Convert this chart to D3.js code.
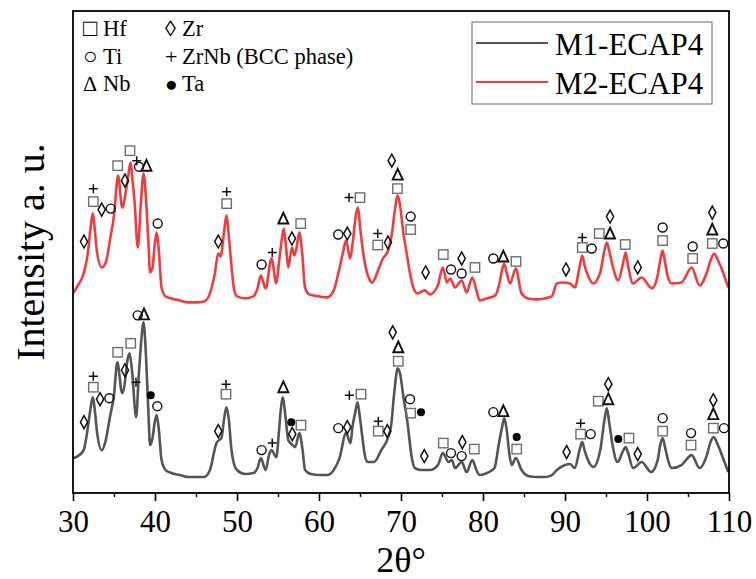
<!DOCTYPE html>
<html>
<head>
<meta charset="utf-8">
<script src="https://cdn.jsdelivr.net/npm/d3@7"></script>
<style>
  html, body { margin: 0; padding: 0; background: #fff; }
  svg { display: block; }
</style>
</head>
<body>
<svg id="chart" width="756" height="579"></svg>
<script>
// ---------- DATA ----------
const seriesNames = ["M1-ECAP4", "M2-ECAP4"];
const xTicks = [30, 40, 50, 60, 70, 80, 90, 100, 110];
const xMinorTicks = [35, 45, 55, 65, 75, 85, 95, 105];

// M2-ECAP4 (red, upper) : [2theta, intensity a.u.]
const m2 = [
  [30.0,400],[30.6,416],[31.3,440],[31.8,480],[32.1,525],[32.4,560],[32.7,520],[32.9,486],[33.5,452],[34.0,462],[34.5,506],
  [35.0,556],[35.5,636],[36.0,572],[36.5,610],[36.7,630],[37.0,662],[37.3,620],[37.5,586],[37.9,492],[38.3,586],[38.6,640],
  [38.9,590],[39.2,500],[39.4,442],[39.7,452],[39.95,495],[40.2,522],[40.45,490],[40.8,412],[41.3,394],[42.0,390],[43.0,386],
  [44.0,382],[45.0,382],[46.0,384],[46.7,400],[47.3,440],[47.7,480],[48.0,474],[48.4,520],[48.7,556],[49.0,515],[49.3,460],
  [49.6,412],[50.0,394],[51.0,390],[52.0,394],[52.5,410],[52.9,436],[53.5,410],[54.2,470],[54.8,420],
  [55.1,460],[55.4,500],[55.7,530],[56.0,490],[56.25,452],[56.7,492],[57.0,476],[57.3,495],[57.6,522],[57.9,490],[58.3,412],[58.8,398],
  [60.0,394],[61.0,392],[61.8,406],[62.35,440],[62.9,480],[63.3,506],[63.8,470],[64.1,500],[64.4,545],[64.7,572],[65.1,520],
  [65.4,480],[65.7,452],[66.0,434],[66.5,422],[67.2,446],[67.8,470],[68.4,485],[68.9,520],[69.2,560],[69.6,596],
  [69.9,575],[70.3,520],[70.7,480],[71.1,440],[71.5,412],[72.0,400],[72.9,406],[73.5,398],[74.5,416],
  [75.1,452],[75.6,422],[76.0,430],[76.6,412],[77.4,426],[78.0,402],[78.7,432],[79.2,406],[79.6,386],
  [80.5,390],[81.5,396],[82.0,420],[82.3,445],[82.6,460],[82.9,440],[83.3,420],[84.0,450],[84.7,400],[85.5,390],[86.5,388],
  [87.5,390],[88.4,394],[89.0,420],[89.8,422],[90.6,420],[91.2,412],[91.8,455],[92.1,476],[92.4,455],[92.8,436],[93.45,420],
  [94.3,442],[94.8,485],[95.1,502],[95.4,485],[95.8,456],[96.5,426],[97.1,462],[97.4,482],[97.7,455],[98.3,420],[99.35,432],
  [100.6,410],[101.3,436],[101.6,465],[101.9,486],[102.2,462],[102.5,436],[103.0,420],[104.2,422],[105.45,452],[106.4,416],
  [107.3,442],[107.8,468],[108.2,480],[108.6,468],[109.0,454],[109.9,412]
];

// M1-ECAP4 (grey, lower) : [2theta, intensity a.u.]
const m1 = [
  [30.0,70],[30.6,74],[31.3,86],[31.8,130],[32.1,165],[32.4,192],[32.7,160],[32.9,126],[33.5,86],[34.0,106],[34.5,152],
  [35.0,196],[35.4,262],[36.0,200],[36.5,246],[36.6,262],[36.9,280],[37.2,245],[37.7,152],[38.0,230],[38.3,300],[38.6,342],
  [38.9,275],[39.2,160],[39.4,96],[39.7,110],[39.95,140],[40.2,156],[40.45,130],[40.8,66],[41.3,46],[42.0,40],[43.0,36],
  [44.0,32],[45.0,32],[46.0,32],[46.7,46],[47.5,100],[47.8,106],[48.1,110],[48.4,145],[48.7,172],[49.0,148],[49.3,90],
  [49.6,60],[50.0,46],[51.0,38],[52.0,40],[52.5,50],[52.9,70],[53.5,46],[53.9,76],[54.2,86],[54.8,72],
  [55.1,120],[55.3,160],[55.6,192],[55.9,155],[56.25,106],[56.8,96],[57.1,92],[57.6,120],[58.0,86],[58.3,46],[59.0,38],
  [60.0,36],[61.0,36],[61.8,46],[62.5,70],[63.3,120],[63.85,100],[64.1,135],[64.4,160],[64.7,182],[65.0,150],
  [65.3,110],[65.6,75],[65.9,62],[66.7,62],[67.6,86],[68.4,110],[68.8,136],[69.2,205],[69.6,250],[69.9,238],
  [70.3,192],[70.8,140],[71.3,72],[71.7,50],[72.5,46],[73.5,46],[74.5,56],[75.1,80],[75.8,62],
  [76.2,66],[76.6,50],[77.4,62],[78.0,42],[78.7,66],[79.2,46],[79.6,36],[80.5,40],[81.4,50],[81.9,95],
  [82.3,130],[82.6,150],[82.9,125],[83.2,80],[83.5,56],[84.0,70],[84.7,46],[85.5,34],[86.5,32],[87.5,32],[88.4,36],
  [89.0,46],[90.0,56],[90.6,58],[91.2,50],[91.8,88],[92.1,102],[92.4,85],[92.8,66],[93.45,52],[94.3,86],[94.8,145],
  [95.1,170],[95.4,140],[95.8,96],[96.4,62],[97.1,85],[97.4,92],[97.7,80],[98.3,50],[99.35,62],[100.5,42],[101.3,66],
  [101.6,95],[101.9,110],[102.2,92],[102.5,70],[103.0,50],[104.2,56],[105.45,76],[106.4,50],[107.3,76],[107.7,100],
  [108.1,112],[108.5,102],[108.8,90],[109.9,42]
];

// Phase markers: [2theta, intensity, phase]
// Hf = square, Ti = circle, Nb = triangle, Zr = diamond, ZrNb = plus, Ta = dot
const m2Markers = [
  [31.34,504,"Zr"],[32.48,584,"Hf"],[32.48,610,"ZrNb"],[33.5,568,"Zr"],[34.6,570,"Ti"],
  [35.45,656,"Hf"],[36.34,626,"Zr"],[36.95,686,"Hf"],[37.77,666,"ZrNb"],[38.05,654,"Ti"],
  [38.96,656,"Nb"],[40.33,540,"Ti"],[47.72,504,"Zr"],[48.74,580,"Hf"],[48.74,604,"ZrNb"],
  [53.0,458,"Ti"],[54.3,482,"ZrNb"],[55.65,550,"Nb"],[56.7,510,"Zr"],[57.77,540,"Hf"],
  [62.35,518,"Ti"],[63.45,520,"Zr"],[63.66,592,"ZrNb"],[65.0,592,"Hf"],[67.16,520,"ZrNb"],
  [67.16,497,"Hf"],[68.41,502,"Zr"],[68.87,666,"Zr"],[69.6,638,"Nb"],[69.57,610,"Hf"],
  [71.18,554,"Ti"],[71.18,528,"Hf"],[73.0,442,"Zr"],[75.16,478,"Hf"],[76.1,448,"Ti"],
  [77.4,470,"Zr"],[77.4,440,"Ti"],[79.02,452,"Hf"],[81.26,470,"Ti"],[82.48,474,"Nb"],
  [84.02,464,"Hf"],[90.12,448,"Zr"],[92.11,512,"ZrNb"],[92.11,492,"Hf"],[93.26,490,"Ti"],
  [94.18,520,"Hf"],[95.49,520,"Nb"],[95.49,554,"Zr"],[97.35,498,"Hf"],[98.87,452,"Zr"],
  [101.91,532,"Ti"],[101.91,506,"Hf"],[105.57,494,"Ti"],[105.57,470,"Hf"],[107.96,562,"Zr"],
  [107.96,528,"Nb"],[107.96,500,"Hf"],[109.3,500,"Ti"]
];
const m1Markers = [
  [31.34,142,"Zr"],[32.48,234,"ZrNb"],[32.48,212,"Hf"],[33.3,188,"Zr"],[34.43,190,"Ti"],
  [35.45,282,"Hf"],[36.34,246,"Zr"],[37.04,300,"Hf"],[37.68,222,"ZrNb"],[37.89,356,"Ti"],
  [38.66,358,"Nb"],[39.48,196,"Ta"],[40.28,174,"Ti"],[47.72,124,"Zr"],[48.66,218,"ZrNb"],
  [48.66,198,"Hf"],[53.0,86,"Ti"],[54.3,100,"ZrNb"],[55.65,212,"Nb"],[56.62,142,"Ta"],
  [56.74,118,"Zr"],[57.8,136,"Hf"],[62.35,130,"Ti"],[63.45,132,"Zr"],[63.7,196,"ZrNb"],
  [65.12,198,"Hf"],[67.23,144,"ZrNb"],[67.23,124,"Hf"],[68.33,124,"Zr"],[68.99,322,"Zr"],
  [69.67,292,"Nb"],[69.67,264,"Hf"],[71.1,188,"Ti"],[71.18,160,"Hf"],[72.44,162,"Ta"],
  [72.84,74,"Zr"],[75.16,100,"Hf"],[76.1,80,"Ti"],[77.48,102,"Zr"],[77.4,74,"Ti"],
  [78.94,88,"Hf"],[81.26,162,"Ti"],[82.48,164,"Nb"],[84.11,112,"Ta"],[84.11,88,"Hf"],
  [90.2,82,"Zr"],[91.91,140,"ZrNb"],[91.91,118,"Hf"],[93.13,118,"Ti"],[94.06,184,"Hf"],
  [95.28,188,"Nb"],[95.28,218,"Zr"],[96.5,108,"Ta"],[97.8,110,"Hf"],[98.87,78,"Zr"],
  [101.91,150,"Ti"],[101.91,124,"Hf"],[105.37,120,"Ti"],[105.37,96,"Hf"],[108.09,186,"Zr"],
  [108.09,158,"Nb"],[108.09,130,"Hf"],[109.39,130,"Ti"]
];

// phase legend: [phase, symbol glyph, label]
const phaseLegend = [
  ["Hf", "□", "Hf"], ["Zr", "◊", "Zr"],
  ["Ti", "○", "Ti"], ["ZrNb", "+", "ZrNb (BCC phase)"],
  ["Nb", "Δ", "Nb"], ["Ta", "●", "Ta"]
];

// ---------- LAYOUT ----------
const SERIF = "'Liberation Serif', 'Times New Roman', Times, serif";
const svg = d3.select("#chart");
const margin = {left: 73, top: 11, right: 27, bottom: 86};
const W = 756, H = 579;
const x = d3.scaleLinear().domain([30, 110]).range([margin.left, W - margin.right]);
const y = d3.scaleLinear().domain([0, 966]).range([H - margin.bottom, margin.top]);

const colors = {"M1-ECAP4": "#555555", "M2-ECAP4": "#f03c3c"};

// curves
const line = d3.line().x(d => x(d[0])).y(d => y(d[1])).curve(d3.curveMonotoneX);
svg.append("clipPath").attr("id", "clip").append("rect")
  .attr("x", x(30)).attr("y", y(966)).attr("width", x(110) - x(30)).attr("height", y(0) - y(966));
const plot = svg.append("g").attr("clip-path", "url(#clip)");
plot.append("path").datum(m1).attr("d", line)
  .attr("fill", "none").attr("stroke", colors["M1-ECAP4"]).attr("stroke-width", 2.6).attr("stroke-linejoin", "round");
plot.append("path").datum(m2).attr("d", line)
  .attr("fill", "none").attr("stroke", colors["M2-ECAP4"]).attr("stroke-width", 2.6).attr("stroke-linejoin", "round");

// marker drawing
function drawMarker(g, phase) {
  switch (phase) {
    case "Hf":
      g.append("rect").attr("x", -4.7).attr("y", -4.7).attr("width", 9.4).attr("height", 9.4)
        .attr("fill", "none").attr("stroke", "#6e6e6e").attr("stroke-width", 1.4);
      break;
    case "Ti":
      g.append("circle").attr("r", 4.5).attr("fill", "none").attr("stroke", "#111").attr("stroke-width", 1.4);
      break;
    case "Nb":
      g.append("path").attr("d", "M0,-5.8L5,5L-5,5Z").attr("fill", "none")
        .attr("stroke", "#111").attr("stroke-width", 1.9).attr("stroke-linejoin", "miter");
      break;
    case "Zr":
      g.append("path").attr("d", "M0,-6.5L3.6,0L0,6.5L-3.6,0Z").attr("fill", "none")
        .attr("stroke", "#111").attr("stroke-width", 1.5);
      break;
    case "ZrNb":
      g.append("path").attr("d", "M-4.5,0H4.5M0,-4.5V4.5").attr("stroke", "#111").attr("stroke-width", 1.5);
      break;
    case "Ta":
      g.append("circle").attr("r", 4).attr("fill", "#000");
      break;
  }
}
const markerLayer = svg.append("g");
[m2Markers, m1Markers].forEach(arr => {
  arr.forEach(d => {
    const g = markerLayer.append("g").attr("transform", `translate(${x(d[0])},${y(d[1])})`);
    drawMarker(g, d[2]);
  });
});

// frame
svg.append("rect").attr("x", x(30)).attr("y", y(966)).attr("width", x(110) - x(30)).attr("height", y(0) - y(966))
  .attr("fill", "none").attr("stroke", "#000").attr("stroke-width", 1.8);

// x axis
const xAxis = d3.axisBottom(x).tickValues(xTicks).tickSize(8).tickPadding(9).tickFormat(d3.format("d"));
const gx = svg.append("g").attr("transform", `translate(0,${y(0)})`).call(xAxis);
gx.select(".domain").remove();
gx.selectAll(".tick line").attr("stroke", "#000").attr("stroke-width", 1.6);
gx.selectAll(".tick text").style("font-family", SERIF).style("font-size", "31px").attr("fill", "#000");
const xMinor = d3.axisBottom(x).tickValues(xMinorTicks).tickSize(4).tickFormat("");
const gxm = svg.append("g").attr("transform", `translate(0,${y(0)})`).call(xMinor);
gxm.select(".domain").remove();
gxm.selectAll(".tick line").attr("stroke", "#000").attr("stroke-width", 1.4);

// axis titles
svg.append("text").attr("x", (x(30) + x(110)) / 2).attr("y", 572).attr("text-anchor", "middle")
  .style("font-family", SERIF).style("font-size", "36px").text("2θ°");
svg.append("text").attr("transform", `translate(44,${(y(0) + y(966)) / 2}) rotate(-90)`)
  .attr("text-anchor", "middle").style("font-family", SERIF).style("font-size", "40px").text("Intensity a. u.");

// phase legend (top-left): symbol glyph and label as separate texts
const pl = svg.append("g");
const glyphSize = {"□": "24px", "○": "24px", "●": "21px", "Δ": "22px", "+": "22px", "◊": "22px"};
phaseLegend.forEach((p, i) => {
  const col = i % 2, row = Math.floor(i / 2);
  const baseY = 36 + row * 27.6;
  pl.append("text").attr("x", col === 0 ? 83 : 165).attr("y", baseY)
    .style("font-family", SERIF).style("font-size", glyphSize[p[1]]).text(p[1]);
  pl.append("text").attr("x", col === 0 ? 103 : 182).attr("y", baseY)
    .style("font-family", SERIF).style("font-size", "22.5px").text(p[2]);
});

// series legend (top-right)
const lg = svg.append("g");
lg.append("rect").attr("x", 472).attr("y", 22).attr("width", 240).attr("height", 82)
  .attr("fill", "#fff").attr("stroke", "#6a6a6a").attr("stroke-width", 1);
seriesNames.forEach((name, i) => {
  const yy = 43 + i * 39;
  lg.append("line").attr("x1", 476).attr("x2", 548).attr("y1", yy).attr("y2", yy)
    .attr("stroke", colors[name]).attr("stroke-width", 2);
  lg.append("text").attr("x", 555).attr("y", yy + 12).style("font-family", SERIF)
    .style("font-size", "31px").text(name);
});
</script>
</body>
</html>
